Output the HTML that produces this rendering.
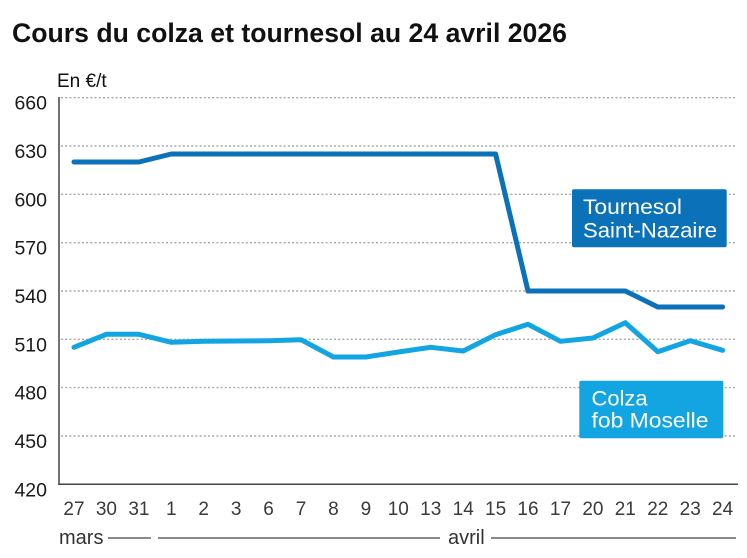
<!DOCTYPE html>
<html>
<head>
<meta charset="utf-8">
<style>
  html, body { margin: 0; padding: 0; background: #ffffff; }
  svg { display: block; }
  text { font-family: "Liberation Sans", "DejaVu Sans", sans-serif; }
</style>
</head>
<body>
<svg width="747" height="558" viewBox="0 0 747 558" xmlns="http://www.w3.org/2000/svg">
  <rect width="747" height="558" fill="#ffffff"/>

  <!-- Title -->
  <text x="12" y="42" font-size="27" font-weight="bold" fill="#111" textLength="555" lengthAdjust="spacingAndGlyphs">Cours du colza et tournesol au 24 avril 2026</text>

  <!-- Unit -->
  <text x="57" y="87" font-size="19" fill="#111">En €/t</text>

  <!-- Gridlines -->
  <g stroke="#a8a8a8" stroke-width="1.4" stroke-dasharray="2,2.2">
    <line x1="61" y1="97.7" x2="737" y2="97.7"/>
    <line x1="61" y1="146" x2="737" y2="146"/>
    <line x1="61" y1="194.3" x2="737" y2="194.3"/>
    <line x1="61" y1="242.7" x2="737" y2="242.7"/>
    <line x1="61" y1="291" x2="737" y2="291"/>
    <line x1="61" y1="339.3" x2="737" y2="339.3"/>
    <line x1="61" y1="387.6" x2="737" y2="387.6"/>
    <line x1="61" y1="436" x2="737" y2="436"/>
  </g>

  <!-- Axes -->
  <line x1="59" y1="97" x2="59" y2="485" stroke="#444" stroke-width="1.5"/>
  <line x1="58.3" y1="484.3" x2="738" y2="484.3" stroke="#444" stroke-width="1.5"/>

  <!-- Y labels -->
  <g font-size="19.5" fill="#1a1a1a" text-anchor="end">
    <text x="47" y="109.5">660</text>
    <text x="47" y="158">630</text>
    <text x="47" y="206.3">600</text>
    <text x="47" y="254.7">570</text>
    <text x="47" y="303">540</text>
    <text x="47" y="351.3">510</text>
    <text x="47" y="399.6">480</text>
    <text x="47" y="448">450</text>
    <text x="47" y="496.5">420</text>
  </g>

  <!-- X labels -->
  <g font-size="19" fill="#3a3a3a" text-anchor="middle">
    <text x="74" y="515">27</text>
    <text x="106.4" y="515">30</text>
    <text x="138.9" y="515">31</text>
    <text x="171.3" y="515">1</text>
    <text x="203.7" y="515">2</text>
    <text x="236.2" y="515">3</text>
    <text x="268.6" y="515">6</text>
    <text x="301" y="515">7</text>
    <text x="333.4" y="515">8</text>
    <text x="365.9" y="515">9</text>
    <text x="398.3" y="515">10</text>
    <text x="430.7" y="515">13</text>
    <text x="463.2" y="515">14</text>
    <text x="495.6" y="515">15</text>
    <text x="528" y="515">16</text>
    <text x="560.5" y="515">17</text>
    <text x="592.9" y="515">20</text>
    <text x="625.3" y="515">21</text>
    <text x="657.8" y="515">22</text>
    <text x="690.2" y="515">23</text>
    <text x="722.6" y="515">24</text>
  </g>

  <!-- Month labels -->
  <text x="59" y="544" font-size="20" fill="#333">mars</text>
  <line x1="108" y1="538" x2="151" y2="538" stroke="#444" stroke-width="1.2"/>
  <line x1="158" y1="538" x2="440" y2="538" stroke="#444" stroke-width="1.2"/>
  <text x="448" y="544" font-size="20" fill="#333">avril</text>
  <line x1="491" y1="538" x2="736" y2="538" stroke="#444" stroke-width="1.2"/>

  <!-- Tournesol series -->
  <polyline fill="none" stroke="#0b72ba" stroke-width="5" stroke-linejoin="round" stroke-linecap="round"
    points="74,162 106.4,162 138.9,162 171.3,154 203.7,154 236.2,154 268.6,154 301,154 333.4,154 365.9,154 398.3,154 430.7,154 463.2,154 495.6,154 528,291 560.5,291 592.9,291 625.3,291 657.8,307 690.2,307 722.6,307"/>

  <!-- Colza series -->
  <polyline fill="none" stroke="#12a5e2" stroke-width="5" stroke-linejoin="round" stroke-linecap="round"
    points="74,347.3 106.4,334.3 138.9,334.3 171.3,342.3 203.7,341.3 236.2,341 268.6,340.7 301,339.7 333.4,357 365.9,357 398.3,352 430.7,347.3 463.2,351 495.6,334.7 528,324.3 560.5,341.3 592.9,338 625.3,322.7 657.8,351.7 690.2,340.7 722.6,350.3"/>

  <!-- Legend boxes -->
  <rect x="572" y="189.3" width="154.7" height="58" rx="2" fill="#0b72ba"/>
  <text x="583" y="214" font-size="21.5" fill="#ffffff" textLength="99" lengthAdjust="spacingAndGlyphs">Tournesol</text>
  <text x="583" y="237.3" font-size="21.5" fill="#ffffff" textLength="134" lengthAdjust="spacingAndGlyphs">Saint-Nazaire</text>

  <rect x="579.3" y="380.7" width="144" height="57.6" rx="2" fill="#12a5e2"/>
  <text x="591.5" y="405.7" font-size="21.5" fill="#ffffff" textLength="56" lengthAdjust="spacingAndGlyphs">Colza</text>
  <text x="591.5" y="427.3" font-size="21.5" fill="#ffffff" textLength="117" lengthAdjust="spacingAndGlyphs">fob Moselle</text>
</svg>
</body>
</html>
